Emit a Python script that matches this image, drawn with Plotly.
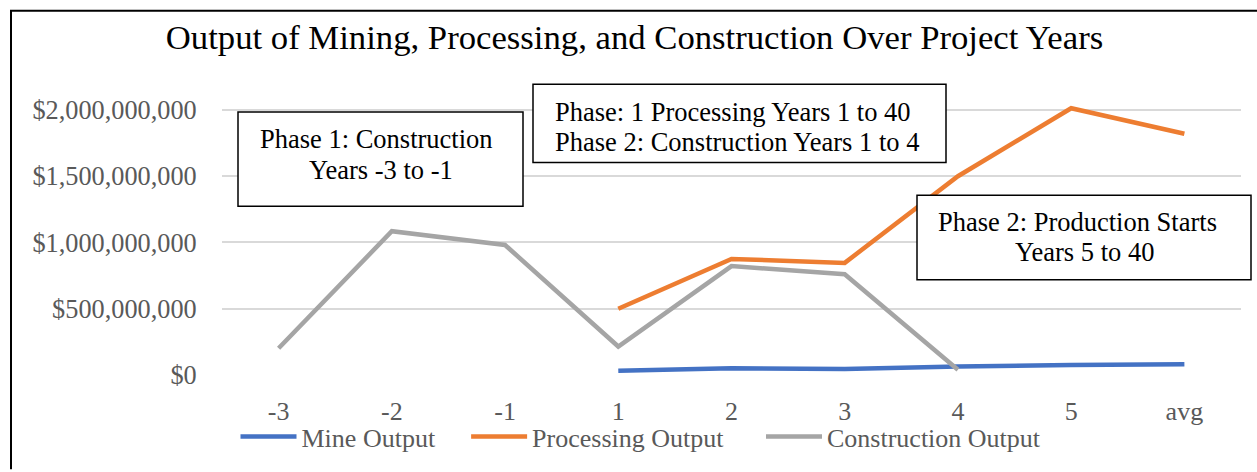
import plotly.graph_objects as go

# ---- data ----
years = ["-3", "-2", "-1", "1", "2", "3", "4", "5", "avg"]
mine_output = [None, None, None, 32e6, 50e6, 45e6, 65e6, 75e6, 82e6]
processing_output = [None, None, None, 500e6, 876e6, 846e6, 1500e6, 2013e6, 1820e6]
construction_output = [202e6, 1085e6, 981e6, 215e6, 822e6, 760e6, 40e6, None, None]
series_names = ["Mine Output", "Processing Output", "Construction Output"]
y_ticks = [0, 500e6, 1000e6, 1500e6, 2000e6]
y_tick_labels = ["$0", "$500,000,000", "$1,000,000,000", "$1,500,000,000", "$2,000,000,000"]

W, H = 1257, 472
L, R, T, B = 222, 16, 103, 95
PW, PH = W - L - R, H - T - B
YMAX = PH / 267 * 2e9

def px(x):
    return (x - L) / PW

def py(y):
    return (H - B - y) / PH

FONT = "Liberation Serif, Times New Roman, serif"
NB = "\u00a0"
# trailing non-breaking spaces widen the gap between legend entries
legend_pad = [NB * 4, NB * 5, ""]

fig = go.Figure()
for name, vals, color, pad in zip(series_names,
                                  [mine_output, processing_output, construction_output],
                                  ["#4472C4", "#ED7D31", "#A5A5A5"], legend_pad):
    fig.add_trace(go.Scatter(x=years, y=vals, name=name + pad, mode="lines",
                             line=dict(color=color, width=4.5)))

shapes = [
    dict(type="line", xref="paper", yref="paper", x0=px(10), x1=px(1257), y0=py(10), y1=py(10),
         line=dict(color="black", width=2)),
    dict(type="line", xref="paper", yref="paper", x0=px(11), x1=px(11), y0=py(10), y1=py(472),
         line=dict(color="black", width=2)),
]
boxes = [(238, 523, 112, 207), (533, 946, 84, 163), (917, 1251, 196, 281)]
for x0, x1, y0, y1 in boxes:
    shapes.append(dict(type="rect", xref="paper", yref="paper", x0=px(x0), x1=px(x1),
                       y0=py(y1), y1=py(y0), fillcolor="white",
                       line=dict(color="black", width=1.5), layer="above"))

texts = [
    ("Phase 1: Construction", 376, 139, "center"),
    ("Years -3 to -1", 381, 170, "center"),
    ("Phase: 1 Processing Years 1 to 40", 553, 112, "left"),
    ("Phase 2: Construction Years 1 to 4", 553, 142, "left"),
    ("Phase 2: Production Starts", 1077, 223, "center"),
    ("Years 5 to 40", 1084, 253, "center"),
]
annotations = []
for t, x, y, anc in texts:
    annotations.append(dict(text=t, xref="paper", yref="paper", x=px(x), y=py(y),
                            xanchor=anc, yanchor="middle", showarrow=False,
                            font=dict(family=FONT, size=26.5, color="black")))

fig.update_layout(
    width=W, height=H,
    margin=dict(l=L, r=R, t=T, b=B),
    paper_bgcolor="white", plot_bgcolor="white",
    title=dict(text="Output of Mining, Processing, and Construction Over Project Years",
               x=px(634.5), xref="paper", xanchor="center", y=1 - 37 / H, yanchor="middle",
               font=dict(family=FONT, size=34.7, color="black")),
    xaxis=dict(type="category", range=[-0.5, 8.5], showgrid=False, showline=False, zeroline=False,
               ticks="outside", ticklen=13, tickcolor="rgba(0,0,0,0)",
               tickfont=dict(family=FONT, size=26, color="#595959")),
    yaxis=dict(range=[0, YMAX], tickvals=y_ticks, ticktext=y_tick_labels,
               showgrid=True, gridcolor="#D9D9D9", gridwidth=1.5, zeroline=False, showline=False,
               ticks="outside", ticklen=19, tickcolor="rgba(0,0,0,0)",
               tickfont=dict(family=FONT, size=26.3, color="#595959")),
    legend=dict(orientation="h", x=px(641), xanchor="center", y=py(439), yanchor="middle",
                itemwidth=56,
                font=dict(family=FONT, size=26, color="#595959"), bgcolor="rgba(0,0,0,0)"),
    shapes=shapes,
    annotations=annotations,
)

fig.write_html("out.html", config={"displayModeBar": False},
               post_script="document.body.style.margin='0';document.body.style.padding='0';")
